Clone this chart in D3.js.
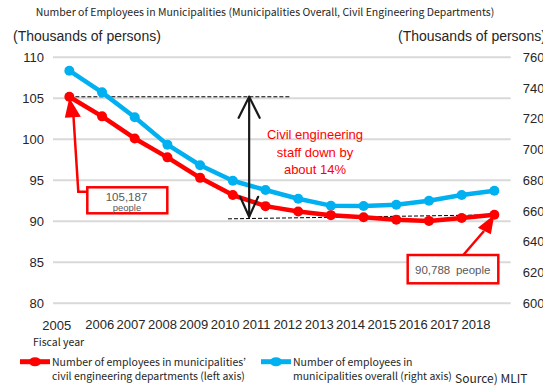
<!DOCTYPE html>
<html>
<head>
<meta charset="utf-8">
<script src="https://cdn.jsdelivr.net/npm/d3@7/dist/d3.min.js"></script>
<style>
  html, body { margin: 0; padding: 0; background: #fff; }
  svg { display: block; }
</style>
</head>
<body>
<svg id="chart" width="543" height="386"></svg>
<script>
// Fiscal years on the category axis
const years = [2005, 2006, 2007, 2008, 2009, 2010, 2011, 2012, 2013, 2014, 2015, 2016, 2017, 2018];
// Civil engineering department staff, thousands of persons (left axis)
const civilStaff = [105.187, 102.8, 100.1, 97.8, 95.3, 93.2, 91.85, 91.2, 90.75, 90.5, 90.2, 90.05, 90.4, 90.788];
// All municipal employees, thousands of persons (right axis)
const totalStaff = [751.3, 737.2, 721.0, 703.2, 689.8, 679.7, 673.7, 668.0, 663.5, 663.3, 664.1, 666.7, 670.4, 673.2];
// Axis ticks
const leftTicks = [80, 85, 90, 95, 100, 105, 110];
const rightTicks = [600, 620, 640, 660, 680, 700, 720, 740, 760];

const RED = "#FF0000";
const BLUE = "#00B0F0";
const GRID = "#D9D9D9";
const TXT = "#262626";
const NUMFONT = "'Liberation Sans', Arial, sans-serif";
const JPFONT = "'Noto Sans CJK JP', 'Noto Sans', sans-serif";

const svg = d3.select("#chart");

const x = d3.scaleBand().domain(years).range([53, 510.7]);
const cx = d => x(d) + x.bandwidth() / 2;
const yL = d3.scaleLinear().domain([80, 110]).range([303.3, 57.3]);
const yR = d3.scaleLinear().domain([600, 760]).range([303.3, 57.3]);

// Title
svg.append("text")
  .attr("x", 265).attr("y", 16)
  .attr("text-anchor", "middle")
  .style("font-family", JPFONT).style("font-size", "10.5px").attr("fill", TXT)
  .text("Number of Employees in Municipalities (Municipalities Overall, Civil Engineering Departments)");

// Axis unit captions
svg.append("text").attr("x", 13).attr("y", 41)
  .style("font-family", NUMFONT).style("font-size", "14px").attr("fill", TXT)
  .text("(Thousands of persons)");
svg.append("text").attr("x", 398).attr("y", 41)
  .style("font-family", NUMFONT).style("font-size", "14px").attr("fill", TXT)
  .text("(Thousands of persons)");

// Horizontal gridlines
svg.append("g").selectAll("line").data(leftTicks).join("line")
  .attr("x1", 53).attr("x2", 510.7)
  .attr("y1", d => yL(d)).attr("y2", d => yL(d))
  .attr("stroke", GRID).attr("stroke-width", 2);

// Left axis labels
const leftAxis = d3.axisLeft(yL).tickValues(leftTicks).tickSize(0).tickPadding(9);
svg.append("g").attr("transform", "translate(53,0)").call(leftAxis)
  .call(g => g.select(".domain").remove())
  .selectAll("text").style("font-family", NUMFONT).style("font-size", "13px").attr("fill", TXT);

// Right axis labels
const rightAxis = d3.axisRight(yR).tickValues(rightTicks).tickSize(0).tickPadding(12);
svg.append("g").attr("transform", "translate(510.7,0)").call(rightAxis)
  .call(g => g.select(".domain").remove())
  .selectAll("text").style("font-family", NUMFONT).style("font-size", "13px").attr("fill", TXT);

// Year labels along the bottom
const xLab = d3.scalePoint().domain(years.slice(1)).range([99.7, 476]);
const yearPos = d => d === years[0] ? 56.7 : xLab(d);
svg.append("g").selectAll("text").data(years).join("text")
  .attr("x", d => yearPos(d))
  .attr("y", d => d === years[0] ? 330 : 329)
  .attr("text-anchor", "middle")
  .style("font-family", NUMFONT).style("font-size", "13px").attr("fill", TXT)
  .text(d => d);
svg.append("text").attr("x", 33).attr("y", 346)
  .style("font-family", JPFONT).style("font-size", "10.5px").attr("fill", TXT)
  .text("Fiscal year");

// Dashed reference lines
const dash = svg.append("g").attr("stroke", "#000").attr("stroke-width", 1).attr("stroke-dasharray", "4,2");
dash.append("line")
  .attr("x1", cx(2005)).attr("x2", 290)
  .attr("y1", yL(civilStaff[0])).attr("y2", yL(civilStaff[0]));
dash.append("line")
  .attr("x1", 228).attr("x2", cx(2018))
  .attr("y1", yL(90.3)).attr("y2", yL(civilStaff[civilStaff.length - 1]));

// Series lines and markers
const lineL = d3.line().x((d, i) => cx(years[i])).y(d => yL(d));
const lineR = d3.line().x((d, i) => cx(years[i])).y(d => yR(d));

svg.append("path").datum(totalStaff).attr("d", lineR)
  .attr("fill", "none").attr("stroke", BLUE).attr("stroke-width", 4.5).attr("stroke-linejoin", "round");
svg.append("g").selectAll("circle").data(totalStaff).join("circle")
  .attr("cx", (d, i) => cx(years[i])).attr("cy", d => yR(d)).attr("r", 5).attr("fill", BLUE);

svg.append("path").datum(civilStaff).attr("d", lineL)
  .attr("fill", "none").attr("stroke", RED).attr("stroke-width", 4.5).attr("stroke-linejoin", "round");
svg.append("g").selectAll("circle").data(civilStaff).join("circle")
  .attr("cx", (d, i) => cx(years[i])).attr("cy", d => yL(d)).attr("r", 5).attr("fill", RED);

// Double-headed arrow showing the decline
const ax = (cx(2010) + cx(2011)) / 2;
const aTop = yL(civilStaff[0]);
const aBot = yL(90.55);
const arr = svg.append("g").attr("stroke", "#1a1a1a").attr("stroke-width", 2.2).attr("fill", "none")
  .attr("stroke-linecap", "round").attr("stroke-linejoin", "round");
arr.append("line").attr("x1", ax).attr("x2", ax).attr("y1", aTop).attr("y2", aBot);
arr.append("polyline").attr("points", `${ax - 10.5},${aTop + 21} ${ax},${aTop} ${ax + 10.5},${aTop + 21}`);
arr.append("polyline").attr("points", `${ax - 9},${aBot - 20} ${ax},${aBot} ${ax + 9},${aBot - 20}`);

// Decline caption
const cap = svg.append("text").attr("text-anchor", "middle")
  .style("font-family", NUMFONT).style("font-size", "13px").attr("fill", RED);
["Civil engineering", "staff down by", "about 14%"].forEach((t, i) => {
  cap.append("tspan").attr("x", 315).attr("y", 139 + i * 17.5).text(t);
});

// Callout for the first value
const p0x = cx(2005), p0y = yL(civilStaff[0]);
svg.append("polyline")
  .attr("points", `87,191.7 78.3,191.7 73.5,${p0y + 20}`)
  .attr("stroke", RED).attr("stroke-width", 2.5).attr("fill", "none");
svg.append("polygon")
  .attr("points", `${p0x},${p0y + 1} ${p0x - 4.5},${p0y + 21} ${p0x + 11.5},${p0y + 20}`)
  .attr("fill", RED);
svg.append("rect").attr("x", 87.3).attr("y", 187.3).attr("width", 80).attr("height", 26)
  .attr("fill", "#fff").attr("stroke", RED).attr("stroke-width", 2.5);
svg.append("text").attr("x", 126.5).attr("y", 200.5).attr("text-anchor", "middle")
  .style("font-family", NUMFONT).style("font-size", "11.5px").attr("fill", "#595959")
  .text(d3.format(",")(Math.round(civilStaff[0] * 1000)));
svg.append("text").attr("x", 127).attr("y", 211).attr("text-anchor", "middle")
  .style("font-family", NUMFONT).style("font-size", "9.5px").attr("fill", "#595959")
  .text("people");

// Callout for the last value
const pNx = cx(2018), pNy = yL(civilStaff[civilStaff.length - 1]);
svg.append("line").attr("x1", 463.3).attr("y1", 255).attr("x2", 484).attr("y2", 231)
  .attr("stroke", RED).attr("stroke-width", 2.5);
svg.append("polygon")
  .attr("points", `${pNx},${pNy} ${pNx - 16.5},${pNy + 13} ${pNx - 3.5},${pNy + 19.5}`)
  .attr("fill", RED);
svg.append("rect").attr("x", 407.7).attr("y", 255).attr("width", 90.6).attr("height", 28.3)
  .attr("fill", "#fff").attr("stroke", RED).attr("stroke-width", 2.5);
svg.append("text").attr("x", 415).attr("y", 274)
  .style("font-family", NUMFONT).style("font-size", "11.5px").attr("fill", "#595959")
  .text(d3.format(",")(Math.round(civilStaff[civilStaff.length - 1] * 1000)) + "\u2002people");

// Legend
const legend = [
  { color: RED, x: 20, lines: ["Number of employees in municipalities\u2019", "civil engineering departments (left axis)"] },
  { color: BLUE, x: 261, lines: ["Number of employees in", "municipalities overall (right axis)"] }
];
legend.forEach(l => {
  const g = svg.append("g");
  g.append("line").attr("x1", l.x).attr("x2", l.x + 30).attr("y1", 361.7).attr("y2", 361.7)
    .attr("stroke", l.color).attr("stroke-width", 5);
  g.append("ellipse").attr("cx", l.x + 15).attr("cy", 361.7).attr("rx", 6).attr("ry", 4.5).attr("fill", l.color);
  l.lines.forEach((t, i) => {
    g.append("text").attr("x", l.x + 32).attr("y", 365.5 + i * 14.5)
      .style("font-family", JPFONT).style("font-size", "10.5px").attr("fill", TXT).text(t);
  });
});

svg.append("text").attr("x", 455).attr("y", 383)
  .style("font-family", JPFONT).style("font-size", "12px").attr("fill", TXT)
  .text("Source) MLIT");
</script>
</body>
</html>
